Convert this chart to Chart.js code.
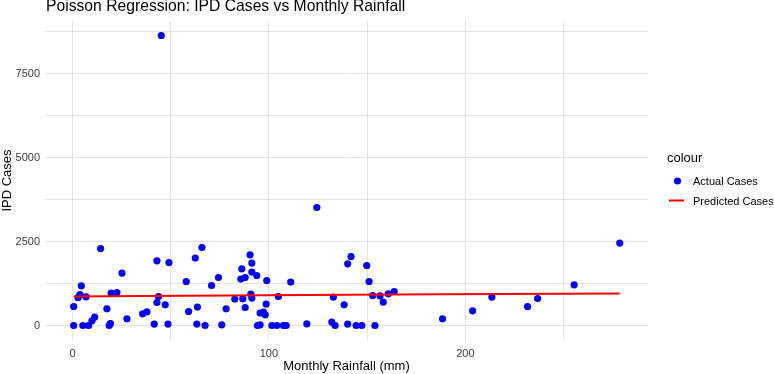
<!DOCTYPE html>
<html>
<head>
<meta charset="utf-8">
<script src="https://cdn.jsdelivr.net/npm/chart.js@4.4.1/dist/chart.umd.min.js"></script>
<style>
  html, body { margin: 0; padding: 0; background: #ffffff; }
  #grafico { display: block; }
</style>
</head>
<body>
<canvas id="grafico" width="774" height="374"></canvas>
<script>
// Dados
var chuva = [0.6, 0.6, 2.8, 3.8, 4.5, 6.9, 5.3, 8.2, 9.9, 11.3, 14.3, 17.5, 18.7, 19.3, 19.7, 22.6, 25.2, 27.7,
  35.7, 37.9, 41.6, 43.0, 49.1, 43.8, 43.0, 47.2, 48.6, 45.2, 65.9, 62.5, 57.9, 59.1, 63.6, 63.3, 67.5,
  70.8, 74.3, 76.0, 78.2, 82.6, 86.7, 87.9, 86.2, 85.7, 87.9, 90.4, 91.3, 91.3, 93.8, 90.8, 91.3,
  98.9, 98.6, 97.2, 95.5, 98.1, 94.2, 95.5, 101.5, 104.0, 107.4, 108.8, 104.8, 111.1, 119.3, 124.4,
  141.8, 140.1, 149.8, 151.0, 132.8, 138.3, 132.0, 133.7, 140.1, 144.4, 147.3, 154.0, 152.8, 156.6,
  158.2, 160.8, 163.8, 188.4, 203.7, 213.5, 231.7, 236.8, 255.4, 278.6];
var casos = [0, 566, 830, 920, 1183, 855, 0, 0, 140, 250, 2295, 497, 0, 60, 965, 983, 1561, 200,
  349, 408, 42, 1928, 1877, 864, 685, 617, 42, 8641, 2324, 2008, 1311, 417, 548, 42, 0,
  1192, 1430, 20, 497, 786, 795, 536, 1690, 1383, 1430, 2107, 1859, 1591, 1490, 936, 816,
  1341, 638, 399, 369, 319, 0, 20, 0, 0, 0, 0, 864, 1293, 50, 3516,
  2056, 1838, 1788, 1311, 846, 617, 101, 0, 42, 0, 0, 0, 894, 885,
  697, 945, 1013, 200, 438, 846, 566, 805, 1213, 2455];

// Linha prevista
var chuvaPrevista = [0.6, 35, 100, 140, 188, 278.6];
var casosPrevistos = [864, 880, 900, 915, 932, 950];

// Ticks
var ticksX = [0, 50, 100, 150, 200, 250];
var rotulosX = [0, 100, 200];
var ticksY = [0, 1250, 2500, 3750, 5000, 6250, 7500, 8750];
var rotulosY = [0, 2500, 5000, 7500];

var fonte = "'Liberation Sans', Arial, sans-serif";

// Titulo e legenda desenhados no canvas
var textoExtra = {
  id: 'textoExtra',
  afterDraw: function (chart) {
    var ctx = chart.ctx;
    ctx.save();
    ctx.fillStyle = '#000000';
    ctx.textBaseline = 'alphabetic';
    ctx.textAlign = 'left';
    ctx.font = '15.7px ' + fonte;
    ctx.fillText('Poisson Regression: IPD Cases vs Monthly Rainfall', 46, 10.5);

    // legenda
    ctx.font = '13px ' + fonte;
    ctx.textBaseline = 'middle';
    ctx.fillText('colour', 667, 158.5);
    ctx.font = '11px ' + fonte;
    ctx.fillText('Actual Cases', 693, 182);
    ctx.fillText('Predicted Cases', 693, 201.5);
    ctx.fillStyle = '#0000FF';
    ctx.beginPath();
    ctx.arc(677.5, 181, 3.6, 0, Math.PI * 2);
    ctx.fill();
    ctx.strokeStyle = '#FF0000';
    ctx.lineWidth = 2;
    ctx.beginPath();
    ctx.moveTo(669, 200.5);
    ctx.lineTo(684, 200.5);
    ctx.stroke();
    ctx.restore();
  }
};

var ctx = document.getElementById('grafico').getContext('2d');

new Chart(ctx, {
  type: 'scatter',
  data: {
    datasets: [{
      label: 'Predicted Cases',
      type: 'line',
      data: chuvaPrevista.map(function (x, i) { return { x: x, y: casosPrevistos[i] }; }),
      borderColor: '#FF0000',
      borderWidth: 2,
      pointRadius: 0,
      fill: false,
      tension: 0,
      order: 0
    }, {
      label: 'Actual Cases',
      data: chuva.map(function (x, i) { return { x: x, y: casos[i] }; }),
      backgroundColor: '#0000FF',
      borderWidth: 0,
      pointRadius: 3.6,
      order: 1
    }]
  },
  options: {
    responsive: false,
    animation: false,
    layout: { padding: { top: 21, right: 126, left: 0, bottom: 0 } },
    plugins: {
      legend: { display: false },
      title: { display: false },
      tooltip: { enabled: false }
    },
    scales: {
      x: {
        type: 'linear',
        min: -14,
        max: 293,
        afterBuildTicks: function (scale) {
          scale.ticks = ticksX.map(function (v) { return { value: v }; });
        },
        afterFit: function (scale) { scale.height = 34; },
        grid: { color: '#e3e3e3', lineWidth: 1, drawTicks: false },
        border: { display: false },
        ticks: {
          padding: 7,
          color: '#3a3a3a',
          font: { family: fonte, size: 11 },
          maxRotation: 0,
          autoSkip: false,
          callback: function (v) { return rotulosX.indexOf(v) >= 0 ? String(v) : ''; }
        },
        title: {
          display: true,
          text: 'Monthly Rainfall (mm)',
          color: '#000000',
          font: { family: fonte, size: 13 },
          padding: 0
        }
      },
      y: {
        type: 'linear',
        min: -432,
        max: 9073,
        afterBuildTicks: function (scale) {
          scale.ticks = ticksY.map(function (v) { return { value: v }; });
        },
        afterFit: function (scale) { scale.width = 45; },
        grid: { color: '#e3e3e3', lineWidth: 1, drawTicks: false },
        border: { display: false },
        ticks: {
          padding: 5,
          color: '#3a3a3a',
          font: { family: fonte, size: 11 },
          autoSkip: false,
          callback: function (v) { return rotulosY.indexOf(v) >= 0 ? String(v) : ''; }
        },
        title: {
          display: true,
          text: 'IPD Cases',
          color: '#000000',
          font: { family: fonte, size: 13 },
          padding: 0
        }
      }
    }
  },
  plugins: [textoExtra]
});
</script>
</body>
</html>
